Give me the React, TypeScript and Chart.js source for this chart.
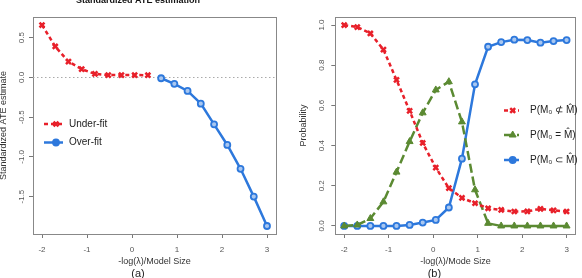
import React, { useEffect, useRef } from 'react';
import { Chart, registerables } from 'chart.js';
import { drawPoint } from 'chart.js/helpers';

Chart.register(...registerables);
Chart.defaults.font.family = '"Liberation Sans", Arial, Helvetica, sans-serif';

// Grid of tuning values shared by both panels (-log(lambda) / model size)
const tuningGrid = [
  -2, -1.706, -1.412, -1.118, -0.824, -0.529, -0.235, 0.059, 0.353,
  0.647, 0.941, 1.235, 1.529, 1.824, 2.118, 2.412, 2.706, 3,
];
const underFitGrid = tuningGrid.slice(0, 9);
const overFitGrid = tuningGrid.slice(9);

// Panel (a): standardized ATE estimate
const underFitAte = [0.66, 0.39, 0.2, 0.105, 0.045, 0.03, 0.03, 0.03, 0.028];
const overFitAte = [-0.01, -0.08, -0.17, -0.33, -0.59, -0.85, -1.15, -1.5, -1.87];

// Panel (b): selection probabilities
const probNotContained = [
  1.0, 0.99, 0.958, 0.878, 0.727, 0.573, 0.413, 0.29, 0.188,
  0.14, 0.113, 0.088, 0.08, 0.072, 0.073, 0.085, 0.078, 0.072,
];
const probEqual = [
  0, 0.005, 0.037, 0.12, 0.268, 0.42, 0.563, 0.677, 0.718,
  0.518, 0.18, 0.013, 0, 0, 0, 0, 0, 0,
];
const probContained = [
  0, 0, 0, 0, 0, 0.005, 0.017, 0.03, 0.092,
  0.335, 0.705, 0.892, 0.915, 0.927, 0.925, 0.912, 0.92, 0.925,
];

const xTickValues = [-2, -1, 0, 1, 2, 3];
const ateTickValues = [-1.5, -1.0, -0.5, 0.0, 0.5];
const probTickValues = [0.0, 0.2, 0.4, 0.6, 0.8, 1.0];

const RED = '#e8202a';
const GREEN = '#5b8a32';
const BLUE = '#2d78dc';

const toPoints = (xs: number[], ys: number[]) => xs.map((x, i) => ({ x, y: ys[i] }));

const redStyle = {
  borderColor: RED,
  backgroundColor: RED,
  borderWidth: 2.5,
  borderDash: [4, 3],
  pointStyle: 'crossRot',
  pointRadius: 3.5,
  pointBorderWidth: 2.5,
  pointBorderColor: RED,
  pointBackgroundColor: RED,
};
const greenStyle = {
  borderColor: GREEN,
  backgroundColor: GREEN,
  borderWidth: 2.5,
  borderDash: [9, 4],
  pointStyle: 'triangle',
  pointRadius: 4,
  pointBorderWidth: 1,
  pointBorderColor: GREEN,
  pointBackgroundColor: GREEN,
};
const blueStyle = {
  borderColor: BLUE,
  backgroundColor: BLUE,
  borderWidth: 2.5,
  borderDash: [],
  pointStyle: 'circle',
  pointRadius: 3,
  pointBorderWidth: 1.8,
  pointBorderColor: BLUE,
  pointBackgroundColor: '#a9c7f0',
};

// Plot frame around the chart area
const frameBox = {
  id: 'frameBox',
  beforeDatasetsDraw(chart: any) {
    const { ctx, chartArea: a } = chart;
    ctx.save();
    ctx.strokeStyle = '#888';
    ctx.lineWidth = 1;
    ctx.strokeRect(Math.round(a.left) + 0.5, Math.round(a.top) + 0.5,
      Math.round(a.right - a.left), Math.round(a.bottom - a.top));
    ctx.restore();
  },
};

// Dotted reference line at y = 0
const zeroLine = {
  id: 'zeroLine',
  beforeDatasetsDraw(chart: any, _args: any, opts: any) {
    if (!opts || !opts.show) return;
    const { ctx, chartArea: a, scales } = chart;
    const y = Math.round(scales.y.getPixelForValue(0)) + 0.5;
    ctx.save();
    ctx.strokeStyle = '#aaa';
    ctx.lineWidth = 1;
    ctx.setLineDash([1.5, 2.5]);
    ctx.beginPath();
    ctx.moveTo(a.left, y);
    ctx.lineTo(a.right, y);
    ctx.stroke();
    ctx.restore();
  },
};

// In-plot legend: line segment with marker, then label
const inlineLegend = {
  id: 'inlineLegend',
  afterDatasetsDraw(chart: any, _args: any, opts: any) {
    if (!opts || !opts.items) return;
    const { ctx } = chart;
    ctx.save();
    for (const item of opts.items) {
      const ds = chart.data.datasets[item.dataset];
      ctx.strokeStyle = ds.borderColor;
      ctx.lineWidth = ds.borderWidth;
      ctx.setLineDash(ds.borderDash || []);
      ctx.beginPath();
      ctx.moveTo(opts.lineStart, item.y);
      ctx.lineTo(opts.lineEnd, item.y);
      ctx.stroke();
      ctx.setLineDash([]);
      ctx.strokeStyle = ds.pointBorderColor;
      ctx.fillStyle = ds.borderColor;
      ctx.lineWidth = ds.pointBorderWidth;
      drawPoint(ctx, { pointStyle: ds.pointStyle, radius: ds.pointRadius, borderWidth: ds.pointBorderWidth, rotation: 0 } as any, opts.marker, item.y);
      ctx.fillStyle = '#222';
      ctx.font = '10px "Liberation Sans", Arial, sans-serif';
      ctx.textBaseline = 'middle';
      ctx.textAlign = 'left';
      ctx.fillText(item.label, opts.textX, item.y);
    }
    ctx.restore();
  },
};

const xAxis = (title: string) => ({
  type: 'linear',
  min: -2.2,
  max: 3.2,
  afterBuildTicks: (s: any) => { s.ticks = xTickValues.map((value) => ({ value })); },
  afterFit: (s: any) => { s.height = 34; },
  ticks: {
    autoSkip: false,
    maxRotation: 0,
    padding: 7,
    color: '#555',
    font: { size: 8 },
    callback: (v: any) => String(v),
  },
  grid: { drawOnChartArea: false, drawTicks: true, tickLength: 4, color: '#777' },
  border: { display: false },
  title: { display: true, text: title, color: '#333', font: { size: 9 }, padding: { top: 0, bottom: 1 } },
});

const yAxis = (opts: { min: number; max: number; ticks: number[]; width: number; pad: number; title: string; titlePad: number }) => ({
  type: 'linear',
  min: opts.min,
  max: opts.max,
  afterBuildTicks: (s: any) => { s.ticks = opts.ticks.map((value) => ({ value })); },
  afterFit: (s: any) => { s.width = opts.width; },
  ticks: {
    autoSkip: false,
    minRotation: 90,
    maxRotation: 90,
    crossAlign: 'center',
    padding: opts.pad,
    color: '#555',
    font: { size: 8 },
    callback: (v: any) => Number(v).toFixed(1),
  },
  grid: { drawOnChartArea: false, drawTicks: true, tickLength: 4, color: '#777' },
  border: { display: false },
  title: { display: true, text: opts.title, color: '#333', font: { size: 9 }, padding: { top: opts.titlePad, bottom: 0 } },
});

function ChartCanvas({ config, left }: { config: any; left: number }) {
  const ref = useRef<HTMLCanvasElement | null>(null);
  useEffect(() => {
    if (!ref.current) return;
    const chart = new Chart(ref.current, config);
    return () => chart.destroy();
  }, [config]);
  return (
    <canvas
      ref={ref}
      width={291}
      height={278}
      style={{ position: 'absolute', left, top: 0, width: 291, height: 278 }}
    />
  );
}

const ateConfig = {
  type: 'line',
  data: {
    datasets: [
      { label: 'Under-fit', data: toPoints(underFitGrid, underFitAte), ...redStyle },
      { label: 'Over-fit', data: toPoints(overFitGrid, overFitAte), ...blueStyle },
    ],
  },
  options: {
    responsive: false,
    animation: false,
    devicePixelRatio: 1,
    layout: { padding: { left: 0, right: 15, top: 0, bottom: 0 } },
    scales: {
      x: xAxis('-log(\u03bb)/Model Size'),
      y: yAxis({ min: -1.971, max: 0.761, ticks: ateTickValues, width: 33, pad: 0.8, title: 'Standardized ATE estimate', titlePad: -1.6 }),
    },
    plugins: {
      legend: { display: false },
      tooltip: { enabled: false },
      title: {
        display: true,
        text: 'Standardized ATE estimation',
        color: '#111',
        font: { size: 9, weight: 'bold', lineHeight: 1.2 },
        padding: { top: -4.6, bottom: 10.8 },
      },
      subtitle: {
        display: true,
        position: 'bottom',
        text: '(a)',
        color: '#222',
        font: { size: 11, lineHeight: 10 / 11 },
        padding: { top: 1, bottom: -1 },
      },
      zeroLine: { show: true },
      inlineLegend: {
        lineStart: 44,
        lineEnd: 63,
        marker: 56,
        textX: 69,
        items: [
          { dataset: 0, label: 'Under-fit', y: 124 },
          { dataset: 1, label: 'Over-fit', y: 142.5 },
        ],
      },
    },
  },
  plugins: [frameBox, zeroLine, inlineLegend],
};

const probConfig = {
  type: 'line',
  data: {
    datasets: [
      { label: 'P(M\u2080 \u2284 M\u0302)', data: toPoints(tuningGrid, probNotContained), ...redStyle },
      { label: 'P(M\u2080 = M\u0302)', data: toPoints(tuningGrid, probEqual), ...greenStyle },
      { label: 'P(M\u2080 \u2282 M\u0302)', data: toPoints(tuningGrid, probContained), ...blueStyle },
    ],
  },
  options: {
    responsive: false,
    animation: false,
    devicePixelRatio: 1,
    layout: { padding: { left: 0, right: 4.3, top: 17, bottom: 0 } },
    scales: {
      x: xAxis('-log(\u03bb)/Mode Size'),
      y: yAxis({ min: -0.04, max: 1.04, ticks: probTickValues, width: 44.3, pad: 4, title: 'Probability', titlePad: 7.6 }),
    },
    plugins: {
      legend: { display: false },
      tooltip: { enabled: false },
      subtitle: {
        display: true,
        position: 'bottom',
        text: '(b)',
        color: '#222',
        font: { size: 11, lineHeight: 10 / 11 },
        padding: { top: 1, bottom: -1 },
      },
      inlineLegend: {
        lineStart: 213,
        lineEnd: 228,
        marker: 221.7,
        textX: 239,
        items: [
          { dataset: 0, label: 'P(M\u2080 \u2284 M\u0302)', y: 110.5 },
          { dataset: 1, label: 'P(M\u2080 = M\u0302)', y: 135 },
          { dataset: 2, label: 'P(M\u2080 \u2282 M\u0302)', y: 160 },
        ],
      },
    },
  },
  plugins: [frameBox, inlineLegend],
};

export default function App() {
  return (
    <div style={{ position: 'fixed', left: 0, top: 0, width: 582, height: 278, background: '#fff', overflow: 'hidden' }}>
      <ChartCanvas config={ateConfig} left={0} />
      <ChartCanvas config={probConfig} left={291} />
    </div>
  );
}
